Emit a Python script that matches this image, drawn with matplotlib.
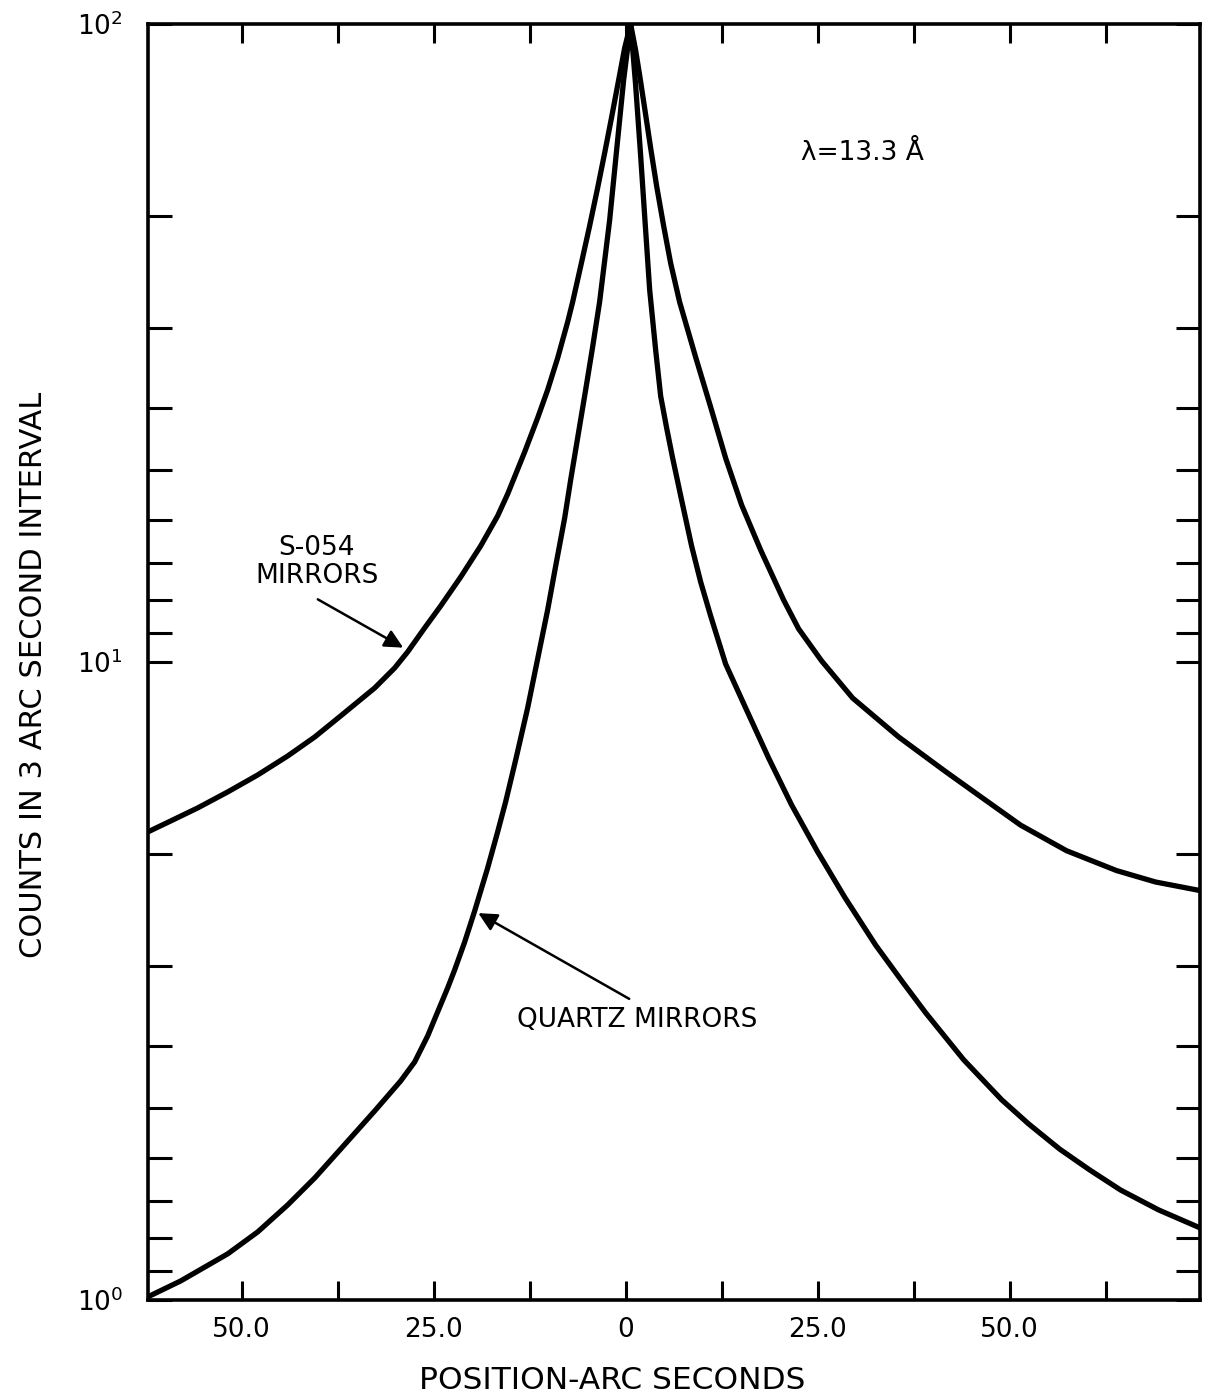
import matplotlib.pyplot as plt
from matplotlib.ticker import FixedLocator, NullFormatter

# S-054 mirrors profile (arc sec, counts)
s054_x = [-62.24, -59.24, -55.73, -51.82, -47.92, -44.01, -40.49, -37.11, -32.68, -30.08,
          -28.39, -26.17, -24.09, -21.48, -18.88, -16.67, -15.36, -13.15, -11.46, -10.16,
          -8.85, -7.55, -6.90, -5.73, -4.69, -3.65, -2.73, -1.82, -0.91, -0.13, 0.65,
          1.30, 1.82, 2.47, 3.26, 4.04, 4.95, 5.86, 7.03, 9.11, 11.07, 13.02, 15.10,
          17.58, 20.57, 22.53, 25.52, 29.56, 35.55, 41.54, 46.48, 51.43, 57.42, 63.93,
          69.01, 74.48]
s054_y = [5.414, 5.634, 5.905, 6.256, 6.651, 7.123, 7.628, 8.231, 9.105, 9.786,
          10.37, 11.31, 12.24, 13.59, 15.20, 16.94, 18.34, 21.34, 24.13, 26.69,
          29.96, 34.12, 36.67, 42.36, 48.25, 55.33, 62.8, 71.5, 81.7, 91.7, 100,
          91.0, 83.2, 73.9, 63.9, 55.7, 48.25, 42.2, 36.67, 30.07, 25.1, 20.88, 17.63,
          14.98, 12.51, 11.27, 10.04, 8.78, 7.63, 6.75, 6.12, 5.55, 5.06, 4.71,
          4.52, 4.39]

# quartz mirrors profile
quartz_x = [-62.24, -57.94, -51.82, -47.92, -44.01, -40.49, -37.11, -32.68, -29.30, -27.47,
            -25.78, -24.48, -23.18, -22.27, -20.96, -19.66, -17.97, -16.67, -15.63, -14.32,
            -12.76, -11.46, -10.16, -9.11, -7.94, -7.16, -6.25, -5.21, -4.30, -3.39,
            -2.08, -1.17, -0.26, 0.65,
            1.30, 1.95, 2.47, 3.13, 3.91, 4.56, 5.34, 6.12, 7.29, 8.59, 9.77, 11.07,
            13.02, 15.63, 18.62, 21.61, 25.0, 28.52, 32.55, 36.07, 39.06, 44.01,
            48.96, 52.47, 56.51, 60.42, 64.45, 69.40, 74.48]
quartz_y = [1.011, 1.071, 1.181, 1.278, 1.409, 1.553, 1.724, 1.978, 2.204, 2.361,
            2.593, 2.828, 3.083, 3.290, 3.640, 4.071, 4.754, 5.414, 6.034, 7.021,
            8.472, 10.11, 12.06, 14.14, 16.81, 19.29, 22.45, 26.69, 31.17, 36.67,
            49.3, 63.5, 81.7, 100,
            80.25, 62.3, 50.2, 38.3, 30.83, 26.12, 23.27, 20.88, 17.94, 15.20, 13.35, 11.81,
            9.93, 8.47, 7.07, 5.97, 5.04, 4.28, 3.60, 3.15, 2.82, 2.38,
            2.06, 1.888, 1.724, 1.599, 1.487, 1.384, 1.302]

x_ticks = [-50, -37.5, -25, -12.5, 0, 12.5, 25, 37.5, 50, 62.5]
x_labels = ["50.0", "", "25.0", "", "0", "", "25.0", "", "50.0", ""]
y_major = [1, 10, 100]
y_minor = [1.111, 1.25, 1.429, 1.667, 2, 2.5, 3.333, 5,
           11.11, 12.5, 14.29, 16.67, 20, 25, 33.33, 50]

plt.rcParams['font.family'] = 'DejaVu Sans'

fig = plt.figure(figsize=(12.05, 13.99), dpi=100)
ax = fig.add_axes([0.1228, 0.0708, 0.8731, 0.912])

ax.plot(s054_x, s054_y, 'k-', lw=3.8, solid_joinstyle='round')
ax.plot(quartz_x, quartz_y, 'k-', lw=3.8, solid_joinstyle='round')

ax.set_yscale('log')
ax.set_xlim(-62.2, 74.8)
ax.set_ylim(1, 100)

ax.set_xticks(x_ticks)
ax.set_xticklabels(x_labels)
ax.yaxis.set_major_locator(FixedLocator(y_major))
ax.set_yticklabels([r'$10^{0}$', r'$10^{1}$', r'$10^{2}$'])
ax.yaxis.set_minor_locator(FixedLocator(y_minor))
ax.yaxis.set_minor_formatter(NullFormatter())

ax.tick_params(axis='x', which='both', direction='in', top=True, bottom=True,
               length=14, width=2.2, labelsize=19, pad=12)
ax.tick_params(axis='y', which='both', direction='in', left=True, right=True,
               length=17, width=2.2, labelsize=19, pad=18)
for s in ax.spines.values():
    s.set_linewidth(2.6)

ax.set_xlabel('POSITION-ARC SECONDS', fontsize=22.5)
ax.xaxis.set_label_coords(0.441, -0.052)
ax.set_ylabel('COUNTS IN 3 ARC SECOND INTERVAL', fontsize=22)
ax.yaxis.set_label_coords(-0.095, 0.49)

ax.text(30.9, 62.8, 'λ=13.3 Å', fontsize=19, ha='center', va='center')

ax.text(-40.2, 14.35, 'S-054\nMIRRORS', fontsize=19, ha='center', va='center',
        linespacing=1.1)
ax.annotate('', xy=(-28.65, 10.48), xytext=(-40.4, 12.6),
            arrowprops=dict(arrowstyle='-|>', lw=1.8, color='k', mutation_scale=28))

ax.text(1.56, 2.75, 'QUARTZ MIRRORS', fontsize=19, ha='center', va='center')
ax.annotate('', xy=(-19.5, 4.06), xytext=(0.78, 2.95),
            arrowprops=dict(arrowstyle='-|>', lw=1.8, color='k', mutation_scale=28))

fig.savefig('out.png', dpi=100)
